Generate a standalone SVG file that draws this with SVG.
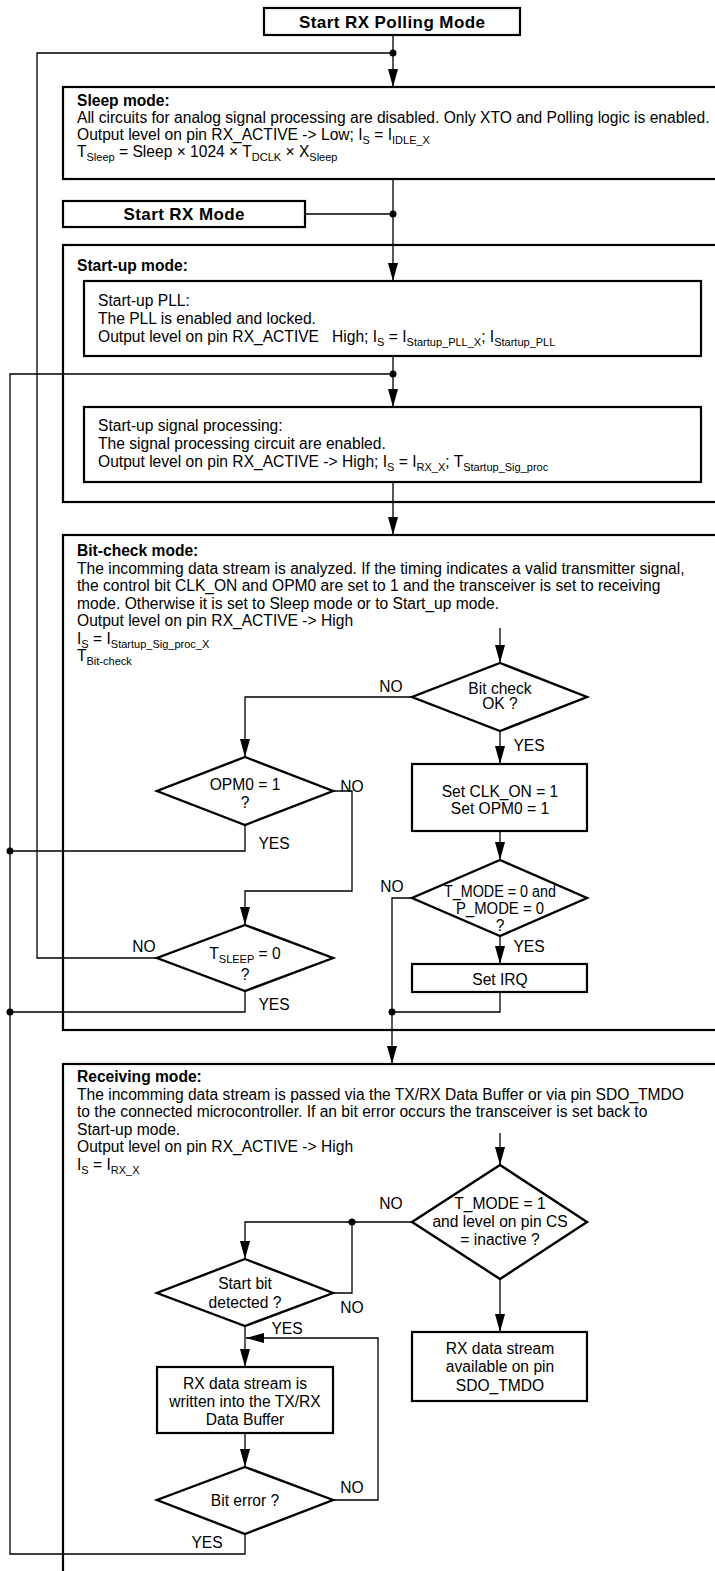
<svg xmlns="http://www.w3.org/2000/svg" width="715" height="1571" viewBox="0 0 715 1571">
<style>
.t{font-family:"Liberation Sans",Arial,Helvetica,sans-serif;font-size:15.6px;fill:#000}
.b{font-weight:bold}
.c{text-anchor:middle}
.s{font-size:11px}
.box{fill:#fff;stroke:#000;stroke-width:2.2}
.dia{fill:#fff;stroke:#000;stroke-width:2.4}
.frame{fill:none;stroke:#000;stroke-width:2.2}
.ln{fill:none;stroke:#000;stroke-width:1.3}
.ar{fill:none;stroke:#000;stroke-width:1.3;marker-end:url(#ah)}
.dot{fill:#000}
</style>
<defs>
<marker id="ah" viewBox="0 0 18 10" markerWidth="18" markerHeight="10" refX="18" refY="5" orient="auto" markerUnits="userSpaceOnUse">
<path d="M0,0 L18,5 L0,10 z" fill="#000"/>
</marker>
</defs>
<rect width="715" height="1571" fill="#fff"/>

<g id="sleep-mode">
<rect class="box" x="63" y="87" width="700" height="92"/>
<text class="t b" x="77" y="106">Sleep mode:</text>
<text class="t" x="77" y="123">All circuits for analog signal processing are disabled. Only XTO and Polling logic is enabled.</text>
<text class="t" x="77" y="140">Output level on pin RX_ACTIVE -&gt; Low; I<tspan class="s" dy="4">S</tspan><tspan dy="-4"> = I</tspan><tspan class="s" dy="4">IDLE_X</tspan></text>
<text class="t" x="77" y="157">T<tspan class="s" dy="4">Sleep</tspan><tspan dy="-4"> = Sleep × 1024 × T</tspan><tspan class="s" dy="4">DCLK</tspan><tspan dy="-4"> × X</tspan><tspan class="s" dy="4">Sleep</tspan></text>
</g>

<g id="startup-mode">
<rect class="frame" x="63" y="245" width="700" height="257"/>
<text class="t b" x="77" y="271">Start-up mode:</text>
</g>

<g id="bitcheck-mode">
<rect class="frame" x="63" y="535" width="700" height="495"/>
<text class="t b" x="77" y="556">Bit-check mode:</text>
<text class="t" x="77" y="573.5">The incomming data stream is analyzed. If the timing indicates a valid transmitter signal,</text>
<text class="t" x="77" y="591">the control bit CLK_ON and OPM0 are set to 1 and the transceiver is set to receiving</text>
<text class="t" x="77" y="608.5">mode. Otherwise it is set to Sleep mode or to Start_up mode.</text>
<text class="t" x="77" y="626">Output level on pin RX_ACTIVE -&gt; High</text>
<text class="t" x="77" y="643.5">I<tspan class="s" dy="4">S</tspan><tspan dy="-4"> = I</tspan><tspan class="s" dy="4">Startup_Sig_proc_X</tspan></text>
<text class="t" x="77" y="661">T<tspan class="s" dy="4">Bit-check</tspan></text>
</g>

<g id="receiving-mode">
<rect class="frame" x="63" y="1064" width="700" height="600"/>
<text class="t b" x="77" y="1082">Receiving mode:</text>
<text class="t" x="77" y="1099.5">The incomming data stream is passed via the TX/RX Data Buffer or via pin SDO_TMDO</text>
<text class="t" x="77" y="1117">to the connected microcontroller. If an bit error occurs the transceiver is set back to</text>
<text class="t" x="77" y="1134.5">Start-up mode.</text>
<text class="t" x="77" y="1152">Output level on pin RX_ACTIVE -&gt; High</text>
<text class="t" x="77" y="1169.5">I<tspan class="s" dy="4">S</tspan><tspan dy="-4"> = I</tspan><tspan class="s" dy="4">RX_X</tspan></text>
</g>

<g id="connectors">
<path class="ar" d="M393,35 V87"/>
<path class="ln" d="M157,958 H37 V53 H393"/>
<path class="ar" d="M393,179 V281"/>
<path class="ln" d="M305,214 H393"/>
<path class="ar" d="M393,356 V407"/>
<path class="ln" d="M245,1534 V1554 H10 V374 H393"/>
<path class="ar" d="M393,482 V535"/>
<path class="ar" d="M500,628 V663"/>
<path class="ar" d="M412,697 H245 V757"/>
<path class="ar" d="M500,731 V764"/>
<path class="ar" d="M500,831 V860"/>
<path class="ar" d="M333,791 H352 V891 H245 V925"/>
<path class="ln" d="M245,825 V851 H10"/>
<path class="ln" d="M245,991 V1012 H10"/>
<path class="ar" d="M412,898 H392 V1064"/>
<path class="ar" d="M500,936 V964"/>
<path class="ln" d="M500,992 V1012 H392"/>
<path class="ar" d="M500,1133 V1165"/>
<path class="ar" d="M412,1222 H245 V1259"/>
<path class="ln" d="M333,1293 H352 V1222"/>
<path class="ar" d="M245,1326 V1367"/>
<path class="ar" d="M333,1500 H378 V1338 H246"/>
<path class="ar" d="M245,1433 V1467"/>
<path class="ar" d="M500,1279 V1332"/>
<circle class="dot" cx="393" cy="53" r="3.5"/>
<circle class="dot" cx="393" cy="214" r="3.5"/>
<circle class="dot" cx="393" cy="374" r="3.5"/>
<circle class="dot" cx="10" cy="851" r="3.5"/>
<circle class="dot" cx="10" cy="1012" r="3.5"/>
<circle class="dot" cx="392" cy="1012" r="3.5"/>
<circle class="dot" cx="352" cy="1222" r="3.5"/>
<text class="t c" x="391" y="692">NO</text>
<text class="t c" x="529" y="751">YES</text>
<text class="t c" x="352" y="792">NO</text>
<text class="t c" x="274" y="849">YES</text>
<text class="t c" x="392" y="892">NO</text>
<text class="t c" x="144" y="952">NO</text>
<text class="t c" x="529" y="952">YES</text>
<text class="t c" x="274" y="1010">YES</text>
<text class="t c" x="391" y="1209">NO</text>
<text class="t c" x="352" y="1313">NO</text>
<text class="t c" x="287" y="1334">YES</text>
<text class="t c" x="352" y="1493">NO</text>
<text class="t c" x="207" y="1548">YES</text>
</g>

<g id="start-polling">
<rect class="box" x="264" y="8" width="256" height="27"/>
<text class="t b c" x="392" y="27.5" style="font-size:17px" textLength="186">Start RX Polling Mode</text>
</g>
<g id="start-rx">
<rect class="box" x="63" y="201" width="242" height="26"/>
<text class="t b c" x="184" y="220" style="font-size:17px" textLength="121">Start RX Mode</text>
</g>
<g id="startup-pll">
<rect class="box" x="84" y="281" width="617" height="75"/>
<text class="t" x="98" y="306">Start-up PLL:</text>
<text class="t" x="98" y="324">The PLL is enabled and locked.</text>
<text class="t" x="98" y="342">Output level on pin RX_ACTIVE&#160;&#160; High; I<tspan class="s" dy="4">S</tspan><tspan dy="-4"> = I</tspan><tspan class="s" dy="4">Startup_PLL_X</tspan><tspan dy="-4">; I</tspan><tspan class="s" dy="4">Startup_PLL</tspan></text>
</g>
<g id="startup-sig">
<rect class="box" x="84" y="407" width="617" height="75"/>
<text class="t" x="98" y="431">Start-up signal processing:</text>
<text class="t" x="98" y="449">The signal processing circuit are enabled.</text>
<text class="t" x="98" y="467">Output level on pin RX_ACTIVE -&gt; High; I<tspan class="s" dy="4">S</tspan><tspan dy="-4"> = I</tspan><tspan class="s" dy="4">RX_X</tspan><tspan dy="-4">; T</tspan><tspan class="s" dy="4">Startup_Sig_proc</tspan></text>
</g>
<g id="bit-check-ok">
<polygon class="dia" points="500,663 587,697 500,731 412,697"/>
<text class="t c" x="500" y="693.5">Bit check</text>
<text class="t c" x="500" y="709">OK ?</text>
</g>
<g id="set-clk">
<rect class="box" x="412" y="764" width="175" height="67"/>
<text class="t c" x="500" y="797">Set CLK_ON = 1</text>
<text class="t c" x="500" y="814">Set OPM0 = 1</text>
</g>
<g id="opm0">
<polygon class="dia" points="245,757 333,791 245,825 157,791"/>
<text class="t c" x="245" y="790">OPM0 = 1</text>
<text class="t c" x="245" y="808">?</text>
</g>
<g id="tmode0">
<polygon class="dia" points="500,860 587,898 500,936 412,898"/>
<text class="t c" x="500" y="896.5" textLength="112" lengthAdjust="spacingAndGlyphs">T_MODE = 0 and</text>
<text class="t c" x="500" y="914" textLength="88" lengthAdjust="spacingAndGlyphs">P_MODE = 0</text>
<text class="t c" x="500" y="931">?</text>
</g>
<g id="tsleep">
<polygon class="dia" points="245,925 333,958 245,991 157,958"/>
<text class="t c" x="245" y="959">T<tspan class="s" dy="4">SLEEP</tspan><tspan dy="-4"> = 0</tspan></text>
<text class="t c" x="245" y="980">?</text>
</g>
<g id="set-irq">
<rect class="box" x="412" y="964" width="175" height="28"/>
<text class="t c" x="500" y="985">Set IRQ</text>
</g>
<g id="tmode1">
<polygon class="dia" points="500,1165 587,1222 500,1279 412,1222"/>
<text class="t c" x="500" y="1209">T_MODE = 1</text>
<text class="t c" x="500" y="1227">and level on pin CS</text>
<text class="t c" x="500" y="1245">= inactive ?</text>
</g>
<g id="start-bit">
<polygon class="dia" points="245,1259 333,1293 245,1326 157,1293"/>
<text class="t c" x="245" y="1289">Start bit</text>
<text class="t c" x="245" y="1308">detected ?</text>
</g>
<g id="rx-write">
<rect class="box" x="157" y="1367" width="176" height="66"/>
<text class="t c" x="245" y="1388.5">RX data stream is</text>
<text class="t c" x="245" y="1406.5">written into the TX/RX</text>
<text class="t c" x="245" y="1424.5">Data Buffer</text>
</g>
<g id="bit-error">
<polygon class="dia" points="245,1467 333,1500 245,1534 157,1500"/>
<text class="t c" x="245" y="1505.5">Bit error ?</text>
</g>
<g id="rx-avail">
<rect class="box" x="412" y="1332" width="175" height="69"/>
<text class="t c" x="500" y="1354">RX data stream</text>
<text class="t c" x="500" y="1372">available on pin</text>
<text class="t c" x="500" y="1391">SDO_TMDO</text>
</g>
</svg>
